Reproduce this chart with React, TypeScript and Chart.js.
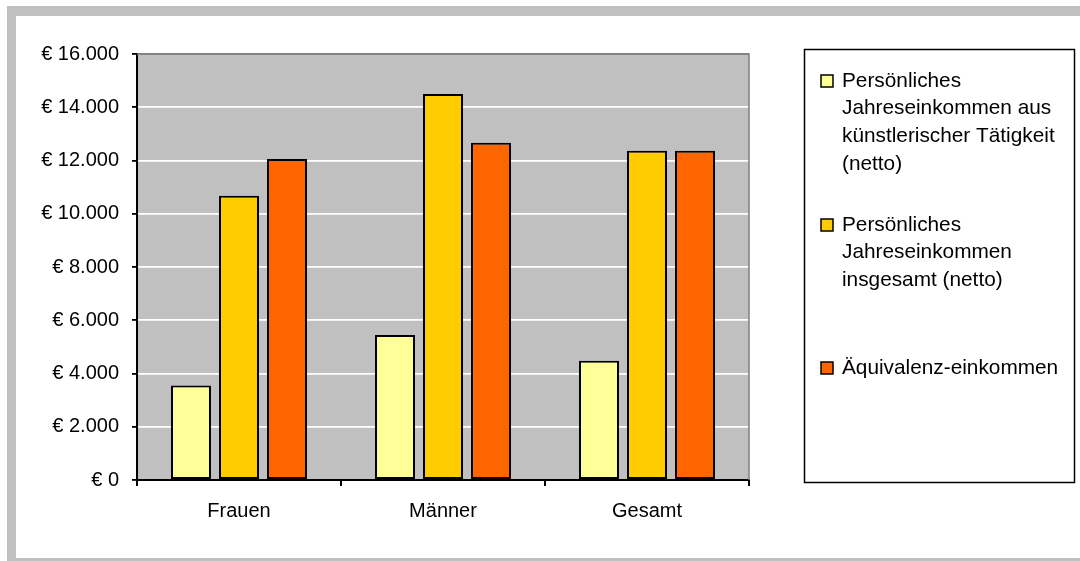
import React, { useEffect, useRef } from "react";
import { Chart, registerables } from "chart.js";

Chart.register(...registerables);

const categories = ["Frauen", "Männer", "Gesamt"];
const seriesNames = [
  "Persönliches Jahreseinkommen aus künstlerischer Tätigkeit (netto)",
  "Persönliches Jahreseinkommen insgesamt (netto)",
  "Äquivalenz-einkommen",
];
const legendLines = [
  ["Persönliches", "Jahreseinkommen aus", "künstlerischer Tätigkeit", "(netto)"],
  ["Persönliches", "Jahreseinkommen", "insgesamt (netto)"],
  ["Äquivalenz-einkommen"],
];
const kuenstlerisch = [3550, 5450, 4480];
const insgesamt = [10680, 14500, 12370];
const aequivalenz = [12060, 12670, 12370];
const yMin = 0;
const yMax = 16000;
const yStep = 2000;
const colors = ["#FFFF99", "#FFCC00", "#FF6600"];

const FONT = '"Liberation Sans", Arial, sans-serif';

function fmt(v: number): string {
  return "€ " + String(v).replace(/\B(?=(\d{3})+(?!\d))/g, ".");
}

const plotBg = {
  id: "plotBg",
  beforeDraw(chart: any) {
    const { ctx, chartArea: a } = chart;
    ctx.save();
    ctx.fillStyle = "#C0C0C0";
    ctx.fillRect(a.left, a.top, a.right - a.left, a.bottom - a.top);
    ctx.restore();
  },
  afterDraw(chart: any) {
    const { ctx, chartArea: a } = chart;
    ctx.save();
    ctx.strokeStyle = "#808080";
    ctx.lineWidth = 1.5;
    ctx.beginPath();
    ctx.moveTo(a.left, a.top);
    ctx.lineTo(a.right, a.top);
    ctx.lineTo(a.right, a.bottom);
    ctx.stroke();
    // legend box
    ctx.strokeStyle = "#000";
    ctx.lineWidth = 1.5;
    ctx.strokeRect(804.5, 49.5, 270, 433);
    const starts = [81, 225, 368];
    ctx.font = "20.8px " + FONT;
    ctx.textBaseline = "middle";
    ctx.textAlign = "left";
    chart.data.datasets.forEach((ds: any, i: number) => {
      const y0 = starts[i];
      ctx.fillStyle = ds.backgroundColor;
      ctx.fillRect(821, y0 - 6, 12, 12);
      ctx.strokeStyle = "#000";
      ctx.lineWidth = 1.5;
      ctx.strokeRect(821, y0 - 6, 12, 12);
      ctx.fillStyle = "#000";
      legendLines[i].forEach((line, j) => {
        ctx.fillText(line, 842, y0 + j * 27.7);
      });
    });
    ctx.restore();
  },
};

export default function App() {
  const ref = useRef<HTMLCanvasElement>(null);
  useEffect(() => {
    if (!ref.current) return;
    const chart = new Chart(ref.current, {
      type: "bar",
      data: {
        labels: categories,
        datasets: [kuenstlerisch, insgesamt, aequivalenz].map((d, i) => ({
          label: seriesNames[i],
          data: d,
          backgroundColor: colors[i],
          borderColor: "#000",
          borderWidth: 2,
          borderSkipped: false,
          categoryPercentage: 0.706,
          barPercentage: 0.833,
        })),
      },
      options: {
        animation: false,
        responsive: false,
        devicePixelRatio: 1,
        layout: { padding: { left: 0, top: 54, right: 331, bottom: 21 } },
        plugins: {
          legend: { display: false },
          tooltip: { enabled: false },
        },
        scales: {
          x: {
            grid: {
              drawOnChartArea: false,
              drawTicks: true,
              tickLength: 6,
              tickColor: "#000",
              lineWidth: 2,
            },
            border: { color: "#000", width: 2 },
            ticks: { color: "#000", font: { family: FONT, size: 20 }, padding: 13 },
            afterFit: (s: any) => {
              s.height = 60;
            },
          },
          y: {
            min: yMin,
            max: yMax,
            ticks: {
              stepSize: yStep,
              color: "#000",
              font: { family: FONT, size: 20 },
              padding: 13,
              callback: (v: any) => fmt(Number(v)),
            },
            grid: {
              color: (c: any) => (c.tick && c.tick.value === yMax ? "#808080" : "#FFFFFF"),
              lineWidth: 1.8,
              tickLength: 5,
              tickColor: "#000",
            },
            border: { color: "#000", width: 2 },
            afterFit: (s: any) => {
              s.width = 137;
            },
          },
        },
      },
      plugins: [plotBg],
    });
    return () => chart.destroy();
  }, []);
  return (
    <div style={{ position: "fixed", left: 0, top: 0, width: 1080, height: 561, overflow: "hidden", background: "#fff" }}>
      <div style={{ position: "absolute", left: 7, top: 6, width: 1100, height: 600, background: "#C0C0C0" }} />
      <div style={{ position: "absolute", left: 16, top: 16, width: 1100, height: 542, background: "#FFFFFF" }} />
      <canvas ref={ref} width={1080} height={561} style={{ position: "absolute", left: 0, top: 0, width: 1080, height: 561 }} />
    </div>
  );
}
